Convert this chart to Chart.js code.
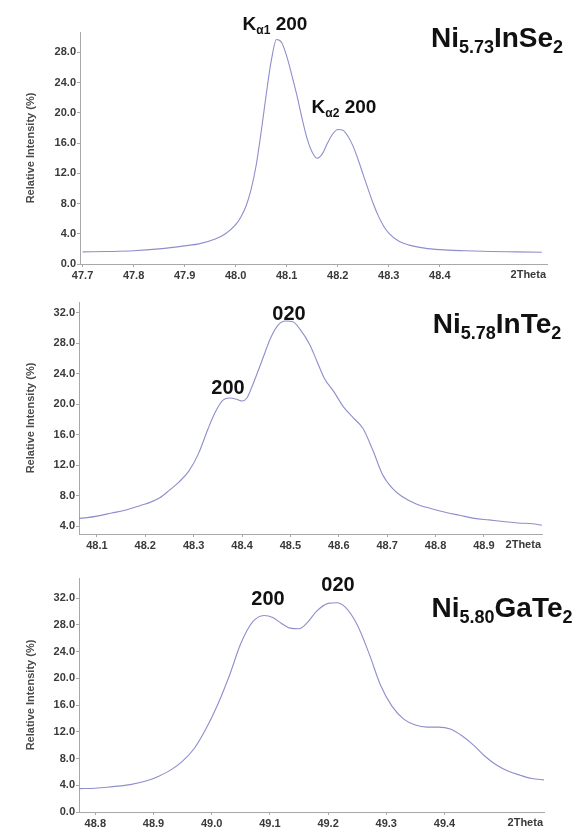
<!DOCTYPE html>
<html><head><meta charset="utf-8">
<script src="https://cdn.jsdelivr.net/npm/chart.js@4"></script>
<style>
html,body{margin:0;padding:0;background:#fff;width:574px;height:830px;overflow:hidden}
.p{position:absolute;left:0;width:574px}
</style></head><body>
<div class="p" style="top:0;height:285px"><canvas id="c1" width="574" height="285"></canvas></div>
<div class="p" style="top:285px;height:270px"><canvas id="c2" width="574" height="270"></canvas></div>
<div class="p" style="top:555px;height:275px"><canvas id="c3" width="574" height="275"></canvas></div>
<script>
// ---- Panel 1: Ni5.73InSe2 ----
const xSe = [47.70,47.75,47.80,47.85,47.90,47.93,47.96,47.98,48.00,48.01,48.02,48.03,48.04,48.05,48.06,48.07,48.08,48.09,48.10,48.11,48.12,48.13,48.14,48.15,48.16,48.17,48.18,48.19,48.20,48.21,48.22,48.23,48.24,48.25,48.26,48.27,48.28,48.29,48.30,48.32,48.34,48.37,48.40,48.45,48.50,48.55,48.60];
const ySe = [1.6,1.65,1.75,2.0,2.4,2.7,3.3,4.0,5.2,6.2,7.6,9.8,13.0,17.5,22.5,27.0,29.7,29.3,27.5,25.0,22.3,19.3,16.6,14.8,14.0,14.6,16.0,17.2,17.8,17.7,16.9,15.6,13.8,11.8,9.8,7.9,6.3,5.0,4.1,3.0,2.5,2.1,1.9,1.75,1.65,1.6,1.55];
const xTicksSe = [47.7,47.8,47.9,48.0,48.1,48.2,48.3,48.4];
const yTicksSe = [0,4,8,12,16,20,24,28];

// ---- Panel 2: Ni5.78InTe2 ----
const xInTe = [48.063,48.08,48.10,48.13,48.16,48.19,48.21,48.23,48.25,48.27,48.29,48.31,48.33,48.345,48.36,48.375,48.39,48.40,48.41,48.42,48.44,48.46,48.475,48.49,48.505,48.52,48.54,48.555,48.57,48.59,48.61,48.63,48.65,48.67,48.69,48.71,48.73,48.76,48.79,48.82,48.85,48.88,48.91,48.94,48.97,49.00,49.02];
const yInTe = [5.0,5.1,5.3,5.7,6.1,6.7,7.1,7.7,8.7,9.8,11.2,13.5,16.8,19.0,20.5,20.8,20.6,20.4,20.8,22.2,25.5,28.8,30.4,30.9,30.8,29.8,27.8,25.6,23.4,21.6,19.6,18.2,16.8,14.0,10.8,9.0,7.9,6.9,6.3,5.8,5.4,5.0,4.8,4.6,4.4,4.3,4.1];
const xTicksInTe = [48.1,48.2,48.3,48.4,48.5,48.6,48.7,48.8,48.9];
const yTicksInTe = [4,8,12,16,20,24,28,32];

// ---- Panel 3: Ni5.80GaTe2 ----
const xGaTe = [48.772,48.80,48.83,48.86,48.89,48.91,48.93,48.95,48.97,48.99,49.01,49.03,49.05,49.07,49.09,49.105,49.12,49.135,49.15,49.165,49.18,49.20,49.215,49.23,49.25,49.27,49.29,49.31,49.33,49.35,49.37,49.39,49.41,49.43,49.45,49.47,49.49,49.51,49.53,49.55,49.571];
const yGaTe = [3.5,3.55,3.8,4.1,4.7,5.4,6.3,7.6,9.5,12.4,16.0,20.3,25.2,28.4,29.4,29.1,28.2,27.5,27.4,28.4,30.0,31.2,31.3,30.6,28.0,23.8,19.0,15.8,13.9,13.0,12.7,12.7,12.4,11.4,10.0,8.3,7.0,6.1,5.5,5.0,4.8];
const xTicksGaTe = [48.8,48.9,49.0,49.1,49.2,49.3,49.4];
const yTicksGaTe = [0,4,8,12,16,20,24,28,32];

const yTitle = 'Relative Intensity (%)';
const xEndLabel = '2Theta';

const FONT = "'Liberation Sans', Arial, Helvetica, sans-serif";
const LINE = '#8e8ecb';
const AXIS = '#a8a8a8';
const TXT = '#3a3a3a';

function drawRich(ctx, cx, base, parts) {
  let w = 0;
  parts.forEach(p => { ctx.font = 'bold ' + p.s + 'px ' + FONT; p.w = ctx.measureText(p.t).width; w += p.w; });
  let x = cx - w / 2;
  ctx.fillStyle = '#111';
  ctx.textAlign = 'left';
  ctx.textBaseline = 'alphabetic';
  parts.forEach(p => { ctx.font = 'bold ' + p.s + 'px ' + FONT; ctx.fillText(p.t, x, base + (p.dy || 0)); x += p.w; });
}

function makePanel(id, xs, ys, xTicks, yTicks, xMin, xMax, yMin, yMax, lay, texts) {
  const data = xs.map((x, i) => ({x: x, y: ys[i]}));
  const deco = {
    id: 'deco' + id,
    afterDraw(chart) {
      const ctx = chart.ctx, a = chart.chartArea;
      ctx.save();
      ctx.translate(31, (a.top + a.bottom) / 2);
      ctx.rotate(-Math.PI / 2);
      ctx.font = 'bold 11px ' + FONT;
      ctx.fillStyle = '#4a4a4a';
      ctx.textAlign = 'center';
      ctx.textBaseline = 'middle';
      ctx.fillText(yTitle, 0, 0);
      ctx.restore();
      ctx.save();
      ctx.font = 'bold 11px ' + FONT;
      ctx.fillStyle = TXT;
      ctx.textAlign = 'right';
      ctx.textBaseline = 'top';
      ctx.fillText(xEndLabel, a.right - 1, a.bottom + 5);
      texts.forEach(t => drawRich(ctx, t.x, t.y, t.parts));
      ctx.restore();
    }
  };
  return new Chart(document.getElementById(id), {
    type: 'line',
    data: { datasets: [{ data: data, borderColor: LINE, borderWidth: 1.1, pointRadius: 0, fill: false, cubicInterpolationMode: 'monotone' }] },
    options: {
      responsive: false, animation: false,
      layout: { padding: { top: lay.top, right: lay.right, left: 0, bottom: 0 } },
      plugins: { legend: { display: false }, tooltip: { enabled: false } },
      scales: {
        x: {
          type: 'linear', min: xMin, max: xMax,
          afterBuildTicks: s => { s.ticks = xTicks.map(v => ({value: v})); },
          afterFit: s => { s.height = lay.xh; },
          border: { color: AXIS, width: 1 },
          grid: { drawOnChartArea: false, drawTicks: true, tickLength: 3, color: AXIS },
          ticks: { padding: 2, maxRotation: 0, autoSkip: false, color: TXT, font: { family: FONT, size: 11, weight: 'bold' }, callback: v => Number(v).toFixed(1) }
        },
        y: {
          type: 'linear', min: yMin, max: yMax,
          afterBuildTicks: s => { s.ticks = yTicks.map(v => ({value: v})); },
          afterFit: s => { s.width = lay.left; },
          border: { color: AXIS, width: 1 },
          grid: { drawOnChartArea: false, drawTicks: true, tickLength: 3, color: AXIS },
          ticks: { padding: 1, color: TXT, font: { family: FONT, size: 11, weight: 'bold' }, callback: v => Number(v).toFixed(1) }
        }
      }
    },
    plugins: [deco]
  });
}

const sub = (t, s) => ({t: t, s: s || 18, dy: 6});
makePanel('c1', xSe, ySe, xTicksSe, yTicksSe, 47.695, 48.61, 0, 30.7,
  {top: 32, right: 27, left: 80, xh: 21},
  [
    {x: 497, y: 47, parts: [{t:'Ni',s:28}, sub('5.73'), {t:'InSe',s:28}, sub('2')]},
    {x: 275, y: 30, parts: [{t:'K',s:19}, {t:'α1',s:12,dy:4}, {t:' 200',s:19}]},
    {x: 344, y: 113, parts: [{t:'K',s:19}, {t:'α2',s:12,dy:4}, {t:' 200',s:19}]}
  ]);
makePanel('c2', xInTe, yInTe, xTicksInTe, yTicksInTe, 48.063, 49.02, 2.95, 33.4,
  {top: 17, right: 32, left: 79, xh: 21},
  [
    {x: 497, y: 48, parts: [{t:'Ni',s:28}, sub('5.78'), {t:'InTe',s:28}, sub('2')]},
    {x: 289, y: 35, parts: [{t:'020',s:20}]},
    {x: 228, y: 109, parts: [{t:'200',s:20}]}
  ]);
makePanel('c3', xGaTe, yGaTe, xTicksGaTe, yTicksGaTe, 48.772, 49.571, 0, 35,
  {top: 23, right: 30, left: 79, xh: 18},
  [
    {x: 502, y: 62, parts: [{t:'Ni',s:28}, sub('5.80'), {t:'GaTe',s:28}, sub('2')]},
    {x: 338, y: 36, parts: [{t:'020',s:20}]},
    {x: 268, y: 50, parts: [{t:'200',s:20}]}
  ]);
</script>
</body></html>
